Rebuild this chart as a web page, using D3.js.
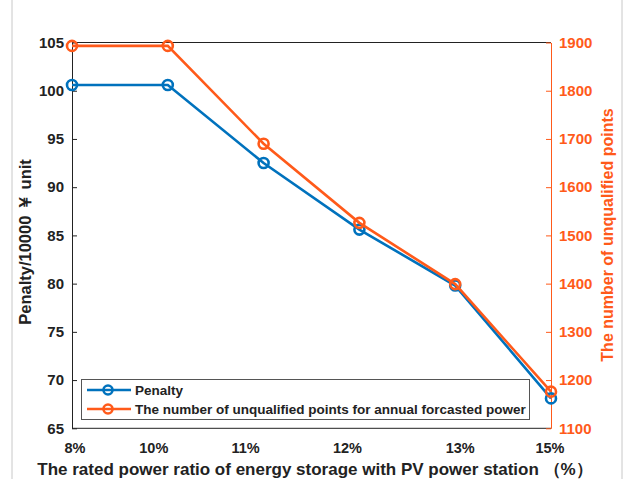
<!DOCTYPE html>
<html lang="en">
<head>
<meta charset="UTF-8">
<title>Penalty vs storage ratio</title>
<style>
  body { margin: 0; background: #fff; }
  svg text { font-family: "Liberation Sans", Arial, sans-serif; font-weight: bold; }
</style>
</head>
<body>
<svg id="chart" width="625" height="479"></svg>
<script src="https://d3js.org/d3.v7.min.js"></script>
<script>
// data
var ratios = ["8%", "10%", "11%", "12%", "13%", "15%"];
var penalty = [100.6, 100.6, 92.5, 85.6, 79.8, 68.1];
var unqualified = [1893, 1893, 1690, 1526, 1399, 1176];
var leftTicks = [65, 70, 75, 80, 85, 90, 95, 100, 105];
var rightTicks = [1100, 1200, 1300, 1400, 1500, 1600, 1700, 1800, 1900];

// the x tick labels in the original sit a bit off the points
var labelShift = [3, -14, -18, -12, 5, -1];

var blue = "#0072BD", orange = "#FF5A1A";

var svg = d3.select("#chart"),
    plotLeft = 72, plotRight = 551, plotTop = 42.5, plotBottom = 428.3;

// thin grey frame lines of the original figure window
svg.append("line").attr("x1", 12).attr("x2", 12).attr("y1", 0).attr("y2", 479)
    .attr("stroke", "#c8c8c8");
svg.append("line").attr("x1", 622).attr("x2", 622).attr("y1", 0).attr("y2", 479)
    .attr("stroke", "#c8c8c8");

var x = d3.scalePoint().domain(ratios).range([plotLeft, plotRight]);
var yL = d3.scaleLinear().domain([65, 105]).range([plotBottom, plotTop]);
var yR = d3.scaleLinear().domain([1100, 1900]).range([plotBottom, plotTop]);

// box lines top / bottom
svg.append("line").attr("x1", plotLeft).attr("x2", plotRight).attr("y1", plotTop).attr("y2", plotTop)
    .attr("stroke", "#222").attr("stroke-width", 1);
svg.append("line").attr("x1", plotLeft).attr("x2", plotRight).attr("y1", plotBottom).attr("y2", plotBottom)
    .attr("stroke", "#222").attr("stroke-width", 1);

// left axis
var gL = svg.append("g").attr("transform", "translate(" + plotLeft + ",0)")
    .call(d3.axisLeft(yL).tickValues(leftTicks).tickSizeInner(-5).tickSizeOuter(0).tickPadding(8));
gL.select(".domain").attr("stroke", "#222");
gL.selectAll(".tick line").attr("stroke", "#222");
gL.selectAll("text").attr("font-size", 15).attr("fill", "#222");

// right axis
var gR = svg.append("g").attr("transform", "translate(" + plotRight + ",0)")
    .call(d3.axisRight(yR).tickValues(rightTicks).tickFormat(d3.format("d"))
        .tickSizeInner(-5).tickSizeOuter(0).tickPadding(8));
gR.select(".domain").attr("stroke", orange);
gR.selectAll(".tick line").attr("stroke", orange);
gR.selectAll("text").attr("font-size", 15).attr("fill", orange);

// x tick labels
svg.append("g").selectAll("text").data(ratios).join("text")
    .attr("x", function(d, i) { return x(d) + labelShift[i]; })
    .attr("y", 453)
    .attr("text-anchor", "middle")
    .attr("font-size", 14.5)
    .attr("fill", "#222")
    .text(function(d) { return d; });

// axis titles
svg.append("text")
    .attr("x", 315).attr("y", 475)
    .attr("text-anchor", "middle").attr("font-size", 17).attr("fill", "#222")
    .text("The rated power ratio of energy storage with PV power station （%）");

svg.append("text")
    .attr("transform", "translate(31,242) rotate(-90)")
    .attr("text-anchor", "middle").attr("font-size", 16.5).attr("fill", "#222")
    .text("Penalty/10000 ￥ unit");

svg.append("text")
    .attr("transform", "translate(613,235) rotate(-90)")
    .attr("text-anchor", "middle").attr("font-size", 16).attr("fill", orange)
    .text("The number of unqualified points");

// series
function drawSeries(values, y, color) {
    var line = d3.line()
        .x(function(d, i) { return x(ratios[i]); })
        .y(function(d) { return y(d); });
    svg.append("path").datum(values)
        .attr("d", line).attr("fill", "none")
        .attr("stroke", color).attr("stroke-width", 2.6);
    svg.append("g").selectAll("circle").data(values).join("circle")
        .attr("cx", function(d, i) { return x(ratios[i]); })
        .attr("cy", function(d) { return y(d); })
        .attr("r", 5).attr("fill", "none")
        .attr("stroke", color).attr("stroke-width", 2.6);
}
drawSeries(penalty, yL, blue);
drawSeries(unqualified, yR, orange);

// legend
var legend = svg.append("g");
legend.append("rect").attr("x", 81.5).attr("y", 379.5).attr("width", 448).attr("height", 40)
    .attr("fill", "#fff").attr("stroke", "#555").attr("stroke-width", 1);
var items = [{name: "Penalty", color: blue}, {name: "The number of unqualified points for annual forcasted power", color: orange}];
items.forEach(function(it, i) {
    var cy = 390 + i * 19;
    legend.append("line").attr("x1", 87).attr("x2", 131).attr("y1", cy).attr("y2", cy)
        .attr("stroke", it.color).attr("stroke-width", 2.6);
    legend.append("circle").attr("cx", 108).attr("cy", cy).attr("r", 4.5)
        .attr("fill", "none").attr("stroke", it.color).attr("stroke-width", 2.6);
    legend.append("text").attr("x", 135).attr("y", cy + 5)
        .attr("font-size", 13.5).attr("fill", "#222").text(it.name);
});
</script>
</body>
</html>
